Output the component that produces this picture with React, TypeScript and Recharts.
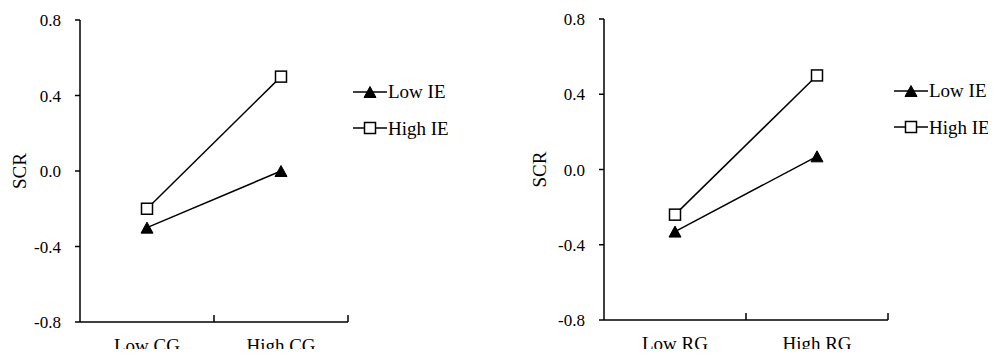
import React from "react";
import { LineChart, Line, XAxis, YAxis, Legend } from "recharts";

const cgCategories = ["Low CG", "High CG"];
const rgCategories = ["Low RG", "High RG"];

const cgLowIE = [-0.3, 0.0];
const cgHighIE = [-0.2, 0.5];
const rgLowIE = [-0.33, 0.07];
const rgHighIE = [-0.24, 0.5];

const yTicks = [-0.8, -0.4, 0, 0.4, 0.8];
const seriesNames = ["Low IE", "High IE"];

const FONT = '"Liberation Serif", "Times New Roman", serif';

const toRows = (cats: string[], low: number[], high: number[]) =>
  cats.map((c, i) => ({ name: c, low: low[i], high: high[i] }));

const TriangleMark = ({ cx, cy }: { cx: number; cy: number }) => (
  <polygon
    points={`${cx},${cy - 5.5} ${cx - 6},${cy + 5.5} ${cx + 6},${cy + 5.5}`}
    fill="#000"
    stroke="#000"
    strokeWidth={1}
  />
);

const SquareMark = ({ cx, cy }: { cx: number; cy: number }) => (
  <rect x={cx - 5.5} y={cy - 5.5} width={11} height={11} fill="#fff" stroke="#000" strokeWidth={1.5} />
);

const CategoryTick = (props: any) => {
  const { x, y, payload, width, visibleTicksCount } = props;
  const half = payload.offset ? payload.offset : width / (2 * (visibleTicksCount || 2));
  return (
    <g>
      <text x={x} y={y + 30} textAnchor="middle" fontFamily={FONT} fontSize={19} fill="#000">
        {payload.value}
      </text>
      <line x1={x + half} x2={x + half} y1={y} y2={y - 7} stroke="#000" strokeWidth={1.5} />
    </g>
  );
};

const renderLegend = (props: any) => {
  const items = [...(props.payload || [])].sort(
    (a: any, b: any) => seriesNames.indexOf(a.value) - seriesNames.indexOf(b.value)
  );
  return (
    <div>
      {items.map((entry: any) => (
        <div key={entry.value} style={{ display: "flex", alignItems: "center", height: 36.6 }}>
          <svg width={35} height={16} style={{ display: "block" }}>
            <line x1={0} y1={8} x2={34} y2={8} stroke="#000" strokeWidth={1.5} />
            {entry.dataKey === "low" ? <TriangleMark cx={17} cy={8} /> : <SquareMark cx={17} cy={8} />}
          </svg>
          <span style={{ fontFamily: FONT, fontSize: 19, color: "#000", lineHeight: 1 }}>{entry.value}</span>
        </div>
      ))}
    </div>
  );
};

type PanelProps = {
  categories: string[];
  low: number[];
  high: number[];
  left: number;
  width: number;
  axisWidth: number;
  top: number;
  right: number;
  xAxisHeight: number;
  labelX: number;
  legendLeft: number;
  legendTop: number;
};

function Panel(p: PanelProps) {
  const data = toRows(p.categories, p.low, p.high);
  return (
    <div style={{ position: "absolute", left: p.left, top: 0 }}>
      <LineChart
        width={p.width}
        height={357}
        data={data}
        margin={{ top: p.top, right: p.right, bottom: 0, left: 0 }}
      >
        <XAxis
          dataKey="name"
          scale="band"
          height={p.xAxisHeight}
          axisLine={{ stroke: "#000", strokeWidth: 1.5 }}
          tickLine={false}
          tickSize={0}
          tickMargin={0}
          tick={<CategoryTick />}
          interval={0}
        />
        <YAxis
          width={p.axisWidth}
          domain={[-0.8, 0.8]}
          ticks={yTicks}
          tickFormatter={(v: number) => v.toFixed(1)}
          axisLine={{ stroke: "#000", strokeWidth: 1.5 }}
          tickLine={{ stroke: "#000", strokeWidth: 1.5 }}
          tickSize={5}
          tickMargin={14}
          tick={{ fill: "#000", fontFamily: FONT, fontSize: 17 }}
          label={{
            content: ({ viewBox }: any) => (
              <text
                x={viewBox.x + p.labelX}
                y={viewBox.y + viewBox.height / 2}
                transform={`rotate(-90 ${viewBox.x + p.labelX} ${viewBox.y + viewBox.height / 2})`}
                textAnchor="middle"
                dominantBaseline="central"
                fontFamily={FONT}
                fontSize={19}
                fill="#000"
              >
                SCR
              </text>
            ),
          }}
        />
        <Legend
          layout="horizontal"
          verticalAlign="middle"
          align="center"
          content={renderLegend}
          wrapperStyle={{ left: p.legendLeft, top: p.legendTop, width: "auto", height: "auto" }}
        />
        <Line
          dataKey="low"
          name={seriesNames[0]}
          type="linear"
          stroke="#000"
          strokeWidth={1.5}
          dot={(d: any) => <TriangleMark key={`t${d.index}`} cx={d.cx} cy={d.cy} />}
          activeDot={false}
          isAnimationActive={false}
        />
        <Line
          dataKey="high"
          name={seriesNames[1]}
          type="linear"
          stroke="#000"
          strokeWidth={1.5}
          dot={(d: any) => <SquareMark key={`s${d.index}`} cx={d.cx} cy={d.cy} />}
          activeDot={false}
          isAnimationActive={false}
        />
      </LineChart>
    </div>
  );
}

export default function App() {
  return (
    <div style={{ position: "relative", width: 996, height: 357, margin: -8, background: "#fff", overflow: "hidden" }}>
      <Panel
        categories={cgCategories}
        low={cgLowIE}
        high={cgHighIE}
        left={0}
        width={500}
        axisWidth={80}
        top={20}
        right={152}
        xAxisHeight={35}
        labelX={19}
        legendLeft={353}
        legendTop={73.4}
      />
      <Panel
        categories={rgCategories}
        low={rgLowIE}
        high={rgHighIE}
        left={500}
        width={496}
        axisWidth={104}
        top={19}
        right={108}
        xAxisHeight={37}
        labelX={39}
        legendLeft={394}
        legendTop={72.4}
      />
    </div>
  );
}
